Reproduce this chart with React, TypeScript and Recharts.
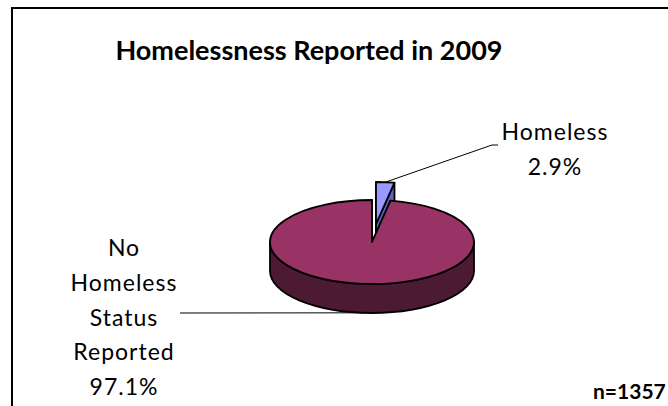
import React from 'react';
import { PieChart, Pie, Cell } from 'recharts';

// ---- data ----
const categories: string[] = ['Homeless', 'No Homeless Status Reported'];
const values: number[] = [2.9, 97.1];
const title = 'Homelessness Reported in 2009';
const sampleNote = 'n=1357';

// ---- styles ----
const TOP_COLORS = ['#9999ff', '#993366'];
const SIDE_COLORS: Record<string, string> = { '#9999ff': '#6262bf', '#993366': '#4d1a33' };
const EXPLODED = ['Homeless'];
const TILT = 42 / 102;
const DEPTH = 29;
const EXPLODE = 0.43;
const FONT = 'Lato, "Open Sans", sans-serif';

// label anchors (annotation layout)
const LABEL_LAYOUT: Record<string, { x: number; y: number; lineTo: [number, number][] }> = {
  Homeless: { x: 555, y: 131, lineTo: [[492, 145], [498, 145]] },
  'No Homeless Status Reported': { x: 124, y: 247, lineTo: [[180, 313]] },
};

const chartData = categories.map((name, i) => ({ name, value: values[i] }));

const RAD = Math.PI / 180;

function geom(props: any) {
  const name = props.name ?? props.payload?.name;
  const rx = props.outerRadius;
  const ry = rx * TILT;
  let cx = props.cx;
  let cy = props.cy;
  const mid = (props.startAngle + props.endAngle) / 2;
  if (EXPLODED.includes(name)) {
    cx += EXPLODE * rx * Math.cos(mid * RAD);
    cy -= EXPLODE * ry * Math.sin(mid * RAD);
  }
  const pt = (a: number, dy = 0): [number, number] => [cx + rx * Math.cos(a * RAD), cy - ry * Math.sin(a * RAD) + dy];
  return { name, rx, ry, cx, cy, mid, pt };
}

function Sector3D(props: any) {
  const { rx, ry, cx, cy, pt } = geom(props);
  const top = props.fill;
  const side = SIDE_COLORS[top] ?? '#444';
  const hi = Math.max(props.startAngle, props.endAngle);
  const lo = Math.min(props.startAngle, props.endAngle);
  const f = (p: [number, number]) => `${p[0].toFixed(2)},${p[1].toFixed(2)}`;

  // cut faces
  const faces = [props.startAngle, props.endAngle].map((a: number, i: number) => {
    const p = pt(a);
    const pd = pt(a, DEPTH);
    const d = `M${cx},${cy} L${f(p)} L${f(pd)} L${cx},${cy + DEPTH} Z`;
    return <path key={'f' + i} d={d} fill={side} stroke="#000" strokeWidth={1.8} strokeLinejoin="round" />;
  });

  // outer side bands (front-facing part: angles in (-180, 0) mod 360)
  const bands: React.ReactNode[] = [];
  for (let k = -2; k <= 1; k++) {
    const a1 = Math.min(hi, 360 * k);
    const a2 = Math.max(lo, -180 + 360 * k);
    if (a1 > a2 + 0.01) {
      const large = a1 - a2 > 180 ? 1 : 0;
      const d = `M${f(pt(a1))} A${rx},${ry} 0 ${large} 1 ${f(pt(a2))} L${f(pt(a2, DEPTH))} A${rx},${ry} 0 ${large} 0 ${f(pt(a1, DEPTH))} Z`;
      bands.push(<path key={'b' + k} d={d} fill={side} stroke="#000" strokeWidth={1.8} strokeLinejoin="round" />);
    }
  }

  const large = hi - lo > 180 ? 1 : 0;
  const topPath = `M${cx},${cy} L${f(pt(hi))} A${rx},${ry} 0 ${large} 1 ${f(pt(lo))} Z`;
  return (
    <g>
      {faces}
      {bands}
      <path d={topPath} fill={top} stroke="#000" strokeWidth={1.8} strokeLinejoin="round" />
    </g>
  );
}

function renderLabel(props: any) {
  const { name, mid, pt } = geom(props);
  const layout = LABEL_LAYOUT[name];
  if (!layout) return null;
  const s = Math.sin(mid * RAD);
  const start = s >= 0 ? pt(mid) : pt(mid, DEPTH);
  const pts = [start, ...layout.lineTo];
  const words = name.split(' ');
  const lines = [...words, `${Number(props.value).toFixed(1)}%`];
  return (
    <g key={name}>
      <polyline points={pts.map((p) => p.join(',')).join(' ')} fill="none" stroke="#000" strokeWidth={1} />
      {lines.map((t, i) => (
        <text
          key={i}
          x={layout.x}
          y={layout.y + i * 34.8}
          textAnchor="middle"
          dominantBaseline="central"
          fontFamily={FONT}
          fontSize={23}
          letterSpacing={1}
          fill="#000"
        >
          {t}
        </text>
      ))}
    </g>
  );
}

export default function App() {
  return (
    <div style={{ position: 'fixed', left: 0, top: 0, width: 668, height: 406, background: '#fff', overflow: 'hidden' }}>
      <div
        style={{
          position: 'absolute',
          left: 11,
          top: 7,
          width: 720,
          height: 460,
          border: '2px solid #000',
        }}
      />
      <div
        style={{
          position: 'absolute',
          left: 0,
          width: 618,
          top: 32,
          textAlign: 'center',
          fontFamily: FONT,
          fontWeight: 700,
          fontSize: 27,
          lineHeight: '36px',
          color: '#000',
        }}
      >
        {title}
      </div>
      <div style={{ position: 'absolute', left: 0, top: 0 }}>
        <PieChart width={668} height={406} margin={{ top: 0, right: 0, bottom: 0, left: 0 }}>
          <Pie
            data={chartData}
            dataKey="value"
            nameKey="name"
            cx={372}
            cy={242}
            outerRadius={102}
            startAngle={90}
            endAngle={-270}
            stroke="none"
            isAnimationActive={false}
            labelLine={false}
            label={renderLabel}
            shape={(p: any) => <Sector3D {...p} />}
          >
            {chartData.map((d, i) => (
              <Cell key={d.name} fill={TOP_COLORS[i]} />
            ))}
          </Pie>
        </PieChart>
      </div>
      <div
        style={{
          position: 'absolute',
          left: 593,
          top: 377,
          fontFamily: FONT,
          fontWeight: 700,
          fontSize: 21,
          lineHeight: '28px',
          whiteSpace: 'nowrap',
          color: '#000',
        }}
      >
        {sampleNote}
      </div>
    </div>
  );
}
